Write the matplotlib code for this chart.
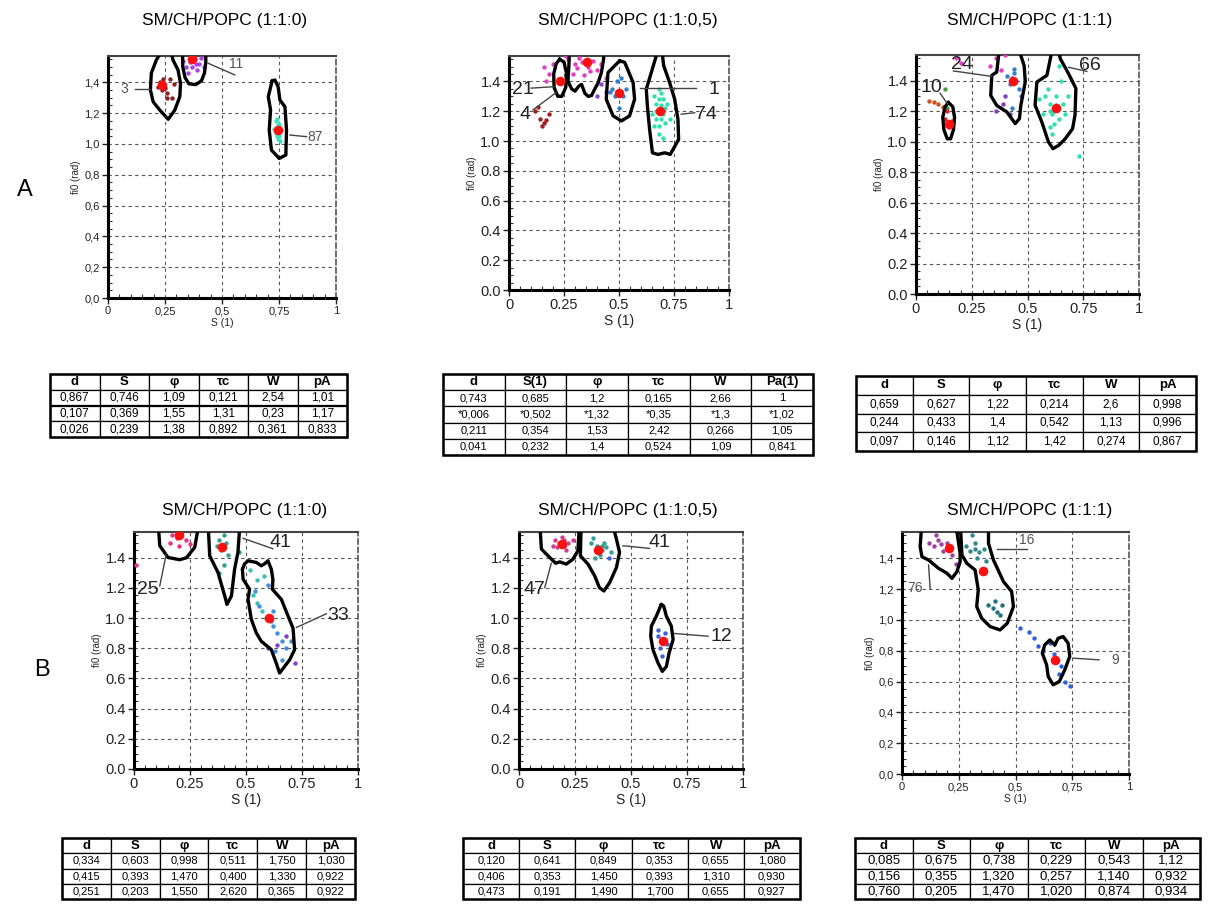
import matplotlib
matplotlib.use("Agg")
import matplotlib.pyplot as plt
import numpy as np
from matplotlib.patches import Rectangle

W, H = 1211, 914
plt.rcParams['font.family'] = ['Liberation Sans', 'DejaVu Sans']

# ---- data -------------------------------------------------------------
titles = ["SM/CH/POPC (1:1:0)", "SM/CH/POPC (1:1:0,5)", "SM/CH/POPC (1:1:1)",
          "SM/CH/POPC (1:1:0)", "SM/CH/POPC (1:1:0,5)", "SM/CH/POPC (1:1:1)"]

hdr_std = ["d", "S", "φ", "τc", "W", "pA"]
hdr_a2 = ["d", "S(1)", "φ", "τc", "W", "Pa(1)"]

tab_a1 = [["0,867", "0,746", "1,09", "0,121", "2,54", "1,01"],
          ["0,107", "0,369", "1,55", "1,31", "0,23", "1,17"],
          ["0,026", "0,239", "1,38", "0,892", "0,361", "0,833"]]
tab_a2 = [["0,743", "0,685", "1,2", "0,165", "2,66", "1"],
          ["*0,006", "*0,502", "*1,32", "*0,35", "*1,3", "*1,02"],
          ["0,211", "0,354", "1,53", "2,42", "0,266", "1,05"],
          ["0,041", "0,232", "1,4", "0,524", "1,09", "0,841"]]
tab_a3 = [["0,659", "0,627", "1,22", "0,214", "2,6", "0,998"],
          ["0,244", "0,433", "1,4", "0,542", "1,13", "0,996"],
          ["0,097", "0,146", "1,12", "1,42", "0,274", "0,867"]]
tab_b1 = [["0,334", "0,603", "0,998", "0,511", "1,750", "1,030"],
          ["0,415", "0,393", "1,470", "0,400", "1,330", "0,922"],
          ["0,251", "0,203", "1,550", "2,620", "0,365", "0,922"]]
tab_b2 = [["0,120", "0,641", "0,849", "0,353", "0,655", "1,080"],
          ["0,406", "0,353", "1,450", "0,393", "1,310", "0,930"],
          ["0,473", "0,191", "1,490", "1,700", "0,655", "0,927"]]
tab_b3 = [["0,085", "0,675", "0,738", "0,229", "0,543", "1,12"],
          ["0,156", "0,355", "1,320", "0,257", "1,140", "0,932"],
          ["0,760", "0,205", "1,470", "1,020", "0,874", "0,934"]]

# cluster outlines (S, fi0)
cont_a1 = [
    [(0.256, 1.65), (0.212, 1.545), (0.19, 1.459), (0.186, 1.35), (0.198, 1.274), (0.227, 1.22),
     (0.264, 1.16), (0.293, 1.22), (0.315, 1.307), (0.318, 1.394), (0.307, 1.48), (0.285, 1.545), (0.27, 1.65)],
    [(0.326, 1.65), (0.328, 1.50), (0.338, 1.43), (0.355, 1.39), (0.385, 1.385), (0.41, 1.41),
     (0.423, 1.46), (0.429, 1.53), (0.428, 1.65)],
    [(0.72, 1.41), (0.703, 1.307), (0.713, 1.22), (0.707, 1.09), (0.717, 0.96), (0.751, 0.906),
     (0.78, 0.928), (0.783, 1.09), (0.776, 1.242), (0.754, 1.285), (0.746, 1.372), (0.732, 1.415), (0.72, 1.41)],
]
cont_a2 = [
    [(0.23, 1.55), (0.215, 1.52), (0.203, 1.45), (0.205, 1.36), (0.222, 1.30), (0.24, 1.30),
     (0.258, 1.36), (0.262, 1.45), (0.25, 1.53), (0.23, 1.55)],
    [(0.276, 1.65), (0.272, 1.50), (0.268, 1.40), (0.285, 1.35), (0.30, 1.335), (0.318, 1.37), (0.33, 1.38),
     (0.345, 1.32), (0.36, 1.30), (0.375, 1.305), (0.39, 1.35), (0.405, 1.39), (0.42, 1.46), (0.43, 1.55), (0.43, 1.65)],
    [(0.503, 1.539), (0.45, 1.46), (0.442, 1.281), (0.473, 1.169), (0.511, 1.135), (0.548, 1.169),
     (0.571, 1.281), (0.564, 1.393), (0.526, 1.528), (0.503, 1.539)],
    [(0.685, 1.65), (0.647, 1.461), (0.624, 1.348), (0.629, 1.236), (0.639, 1.079), (0.652, 0.921), (0.677, 0.91),
     (0.708, 0.921), (0.733, 0.91), (0.771, 1.011), (0.768, 1.146), (0.753, 1.281), (0.73, 1.393),
     (0.703, 1.506), (0.692, 1.65)],
]
cont_a3 = [
    [(0.145, 1.26), (0.13, 1.23), (0.12, 1.16), (0.125, 1.08), (0.14, 1.02), (0.155, 1.02),
     (0.168, 1.08), (0.173, 1.16), (0.165, 1.23), (0.145, 1.26)],
    [(0.377, 1.65), (0.362, 1.459), (0.34, 1.437), (0.335, 1.305), (0.362, 1.239), (0.407, 1.197),
     (0.445, 1.12), (0.464, 1.153), (0.47, 1.239), (0.49, 1.394), (0.485, 1.5), (0.452, 1.65)],
    [(0.617, 1.65), (0.587, 1.437), (0.542, 1.393), (0.534, 1.241), (0.564, 1.131), (0.594, 0.999),
     (0.614, 0.955), (0.64, 0.977), (0.669, 1.02), (0.702, 1.086), (0.713, 1.175), (0.717, 1.351),
     (0.684, 1.448), (0.647, 1.547), (0.632, 1.65)],
]
cont_b1 = [
    [(0.107, 1.65), (0.115, 1.48), (0.152, 1.402), (0.204, 1.387), (0.234, 1.40), (0.271, 1.469), (0.293, 1.65)],
    [(0.33, 1.65), (0.338, 1.413), (0.375, 1.302), (0.405, 1.147), (0.415, 1.091), (0.435, 1.147),
     (0.449, 1.324), (0.464, 1.436), (0.474, 1.65)],
    [(0.484, 1.324), (0.494, 1.36), (0.509, 1.38), (0.546, 1.369), (0.568, 1.347), (0.583, 1.36), (0.598, 1.38),
     (0.613, 1.324), (0.62, 1.258), (0.618, 1.191), (0.658, 1.124), (0.688, 1.013), (0.71, 0.933),
     (0.717, 0.791), (0.695, 0.724), (0.65, 0.636), (0.635, 0.702), (0.613, 0.791), (0.568, 0.847),
     (0.546, 0.902), (0.524, 0.991), (0.509, 1.124), (0.516, 1.191), (0.487, 1.258), (0.484, 1.324)],
]
cont_b2 = [
    [(0.092, 1.65), (0.10, 1.458), (0.137, 1.402), (0.164, 1.364), (0.182, 1.373), (0.211, 1.358),
     (0.241, 1.391), (0.263, 1.447), (0.271, 1.65)],
    [(0.278, 1.65), (0.274, 1.413), (0.308, 1.358), (0.338, 1.28), (0.359, 1.202), (0.379, 1.18),
     (0.405, 1.236), (0.435, 1.336), (0.449, 1.436), (0.435, 1.524), (0.412, 1.65)],
    [(0.635, 1.091), (0.613, 1.013), (0.591, 0.947), (0.588, 0.88), (0.598, 0.791), (0.621, 0.702),
     (0.64, 0.647), (0.658, 0.68), (0.67, 0.769), (0.688, 0.858), (0.68, 0.947), (0.658, 1.013),
     (0.646, 1.08), (0.635, 1.091)],
]
cont_b3 = [
    [(0.088, 1.65), (0.08, 1.475), (0.088, 1.41), (0.117, 1.389), (0.161, 1.335), (0.198, 1.303),
     (0.22, 1.27), (0.242, 1.313), (0.256, 1.378), (0.256, 1.432), (0.234, 1.65)],
    [(0.256, 1.65), (0.264, 1.421), (0.286, 1.367), (0.322, 1.324), (0.336, 1.195), (0.329, 1.087),
     (0.351, 1.011), (0.388, 0.957), (0.432, 0.935), (0.464, 0.979), (0.491, 1.087), (0.483, 1.184),
     (0.447, 1.249), (0.403, 1.389), (0.381, 1.497), (0.381, 1.65)],
    [(0.673, 0.838), (0.651, 0.87), (0.629, 0.838), (0.618, 0.784), (0.637, 0.709), (0.644, 0.633),
     (0.666, 0.579), (0.693, 0.60), (0.717, 0.676), (0.739, 0.763), (0.732, 0.849), (0.71, 0.892),
     (0.688, 0.881), (0.673, 0.838)],
]

# single-molecule points (colour, [(S, fi0), ...])
dots_a1 = [
    ("#8b2020", [(0.23, 1.40), (0.25, 1.36), (0.27, 1.42), (0.26, 1.33), (0.28, 1.30), (0.24, 1.42),
                 (0.29, 1.39), (0.26, 1.30), (0.22, 1.37), (0.245, 1.38), (0.235, 1.35)]),
    ("#b040e0", [(0.34, 1.50), (0.36, 1.53), (0.38, 1.55), (0.40, 1.52), (0.39, 1.48), (0.35, 1.46),
                 (0.41, 1.56), (0.37, 1.50), (0.33, 1.54), (0.42, 1.50), (0.375, 1.54), (0.385, 1.52)]),
    ("#40e0c0", [(0.735, 1.15), (0.745, 1.12), (0.75, 1.08), (0.74, 1.05), (0.755, 1.02), (0.73, 1.10),
                 (0.76, 1.09), (0.745, 1.03), (0.74, 1.16), (0.75, 1.13), (0.738, 1.07), (0.752, 1.05)]),
]
dots_a2 = [
    ("#e040c0", [(0.16, 1.50), (0.18, 1.45), (0.20, 1.52), (0.27, 1.55), (0.30, 1.52), (0.32, 1.56),
                 (0.36, 1.50), (0.38, 1.54), (0.40, 1.48), (0.42, 1.52), (0.29, 1.45), (0.34, 1.44),
                 (0.44, 1.42), (0.17, 1.40), (0.26, 1.57), (0.33, 1.53), (0.37, 1.47), (0.31, 1.49)]),
    ("#9040d0", [(0.42, 1.38), (0.44, 1.33), (0.40, 1.30)]),
    ("#a02020", [(0.12, 1.20), (0.14, 1.15), (0.16, 1.12), (0.17, 1.14), (0.15, 1.10), (0.13, 1.23), (0.18, 1.18)]),
    ("#3080d0", [(0.47, 1.35), (0.49, 1.40), (0.51, 1.42), (0.48, 1.30), (0.52, 1.30), (0.50, 1.22),
                 (0.46, 1.33), (0.53, 1.35)]),
    ("#30e0b0", [(0.66, 1.30), (0.68, 1.35), (0.70, 1.28), (0.67, 1.20), (0.69, 1.15), (0.71, 1.22),
                 (0.66, 1.10), (0.68, 1.05), (0.70, 1.02), (0.72, 1.25), (0.65, 1.18), (0.69, 1.32),
                 (0.67, 1.25), (0.71, 1.12), (0.73, 1.15), (0.68, 1.10), (0.69, 1.24), (0.70, 1.18),
                 (0.67, 1.15), (0.68, 1.28)]),
]
dots_a3 = [
    ("#d05020", [(0.06, 1.27), (0.08, 1.26), (0.10, 1.25), (0.12, 1.23)]),
    ("#40a040", [(0.13, 1.35), (0.14, 1.22)]),
    ("#e02030", [(0.13, 1.15), (0.15, 1.10), (0.16, 1.14), (0.14, 1.20)]),
    ("#e040c0", [(0.18, 1.55), (0.20, 1.52), (0.33, 1.50), (0.36, 1.55), (0.38, 1.47), (0.40, 1.57)]),
    ("#3080d0", [(0.41, 1.43), (0.43, 1.42), (0.44, 1.45), (0.45, 1.40), (0.42, 1.38), (0.46, 1.35),
                 (0.44, 1.48), (0.47, 1.30), (0.43, 1.22)]),
    ("#8040c0", [(0.39, 1.25), (0.40, 1.30), (0.36, 1.20), (0.42, 1.18)]),
    ("#30e0b0", [(0.58, 1.30), (0.60, 1.25), (0.62, 1.20), (0.64, 1.15), (0.60, 1.10), (0.63, 1.30),
                 (0.65, 1.40), (0.66, 1.25), (0.57, 1.18), (0.61, 1.05), (0.68, 1.30), (0.64, 1.50),
                 (0.59, 1.35), (0.62, 1.12), (0.67, 1.18), (0.55, 1.28), (0.73, 0.91), (0.61, 1.18),
                 (0.63, 1.24), (0.60, 1.20)]),
]
dots_b1 = [
    ("#f03080", [(0.17, 1.55), (0.19, 1.53), (0.21, 1.56), (0.23, 1.52), (0.20, 1.48), (0.16, 1.50),
                 (0.25, 1.49), (0.01, 1.35)]),
    ("#30a090", [(0.38, 1.52), (0.40, 1.55), (0.39, 1.45), (0.41, 1.50), (0.37, 1.48), (0.42, 1.42),
                 (0.40, 1.35), (0.38, 1.30), (0.47, 1.44)]),
    ("#40c0b0", [(0.55, 1.10), (0.57, 1.05), (0.53, 1.15), (0.52, 1.32), (0.55, 1.25), (0.58, 1.28)]),
    ("#4090e0", [(0.54, 1.18), (0.56, 1.08), (0.59, 1.00), (0.61, 0.98), (0.62, 0.95), (0.64, 0.90),
                 (0.66, 0.85), (0.68, 0.80), (0.63, 0.78), (0.66, 0.72), (0.70, 0.85), (0.62, 1.05), (0.60, 1.22)]),
    ("#8040d0", [(0.68, 0.88), (0.64, 0.82), (0.72, 0.70), (0.60, 0.80)]),
]
dots_b2 = [
    ("#d04090", [(0.16, 1.52), (0.18, 1.50), (0.20, 1.48), (0.22, 1.50), (0.19, 1.54), (0.15, 1.48),
                 (0.21, 1.45), (0.24, 1.52), (0.17, 1.47), (0.20, 1.52)]),
    ("#30a090", [(0.32, 1.50), (0.35, 1.48), (0.37, 1.45), (0.38, 1.50), (0.36, 1.42), (0.39, 1.47),
                 (0.33, 1.53), (0.41, 1.44), (0.34, 1.40), (0.37, 1.48), (0.36, 1.46)]),
    ("#4060e0", [(0.62, 0.88), (0.64, 0.85), (0.65, 0.90), (0.63, 0.80), (0.64, 0.75), (0.66, 0.83),
                 (0.62, 0.92), (0.40, 1.40)]),
]
dots_b3 = [
    ("#a040a0", [(0.12, 1.50), (0.14, 1.48), (0.16, 1.52), (0.18, 1.45), (0.20, 1.50), (0.22, 1.42),
                 (0.15, 1.55), (0.24, 1.36), (0.17, 1.49)]),
    ("#308890", [(0.28, 1.48), (0.30, 1.45), (0.32, 1.50), (0.34, 1.44), (0.33, 1.40), (0.36, 1.46),
                 (0.31, 1.55), (0.37, 1.38), (0.32, 1.46)]),
    ("#207080", [(0.38, 1.10), (0.40, 1.08), (0.42, 1.05), (0.44, 1.10), (0.41, 1.12), (0.43, 1.03)]),
    ("#3060e0", [(0.52, 0.95), (0.56, 0.92), (0.58, 0.88), (0.60, 0.83), (0.65, 0.85), (0.67, 0.78),
                 (0.70, 0.70), (0.69, 0.65), (0.72, 0.60), (0.74, 0.57), (0.62, 0.80)]),
]

# cluster population labels
labels_a1 = ["3", "11", "87"]
labels_a2 = ["21", "4", "1", "74"]
labels_a3 = ["10", "24", "66"]
labels_b1 = ["25", "41", "33"]
labels_b2 = ["47", "41", "12"]
labels_b3 = ["76", "16", "9"]

# ---- layout -------------------------------------------------------------
# axes rectangles in pixels: left, top, right, bottom
ax_px = [(108, 56, 336, 298), (509, 56, 729, 290), (916, 55, 1139, 294),
         (134, 532, 358, 769), (519, 532, 743, 769), (902, 532, 1129, 774)]
title_px = [(225, 20), (628, 20), (1030, 20), (245, 511), (628, 511), (1030, 511)]
tab_px = [(50, 374, 347, 437), (443, 374, 813, 455), (856, 376, 1196, 451),
          (62, 838, 355, 899), (463, 838, 800, 899), (855, 838, 1200, 899)]
tab_fs = [8.5, 8, 8.5, 8, 8, 9.5]
comma_style = [True, False, False, False, False, True]

# label text position, leader line start, leader line end
ann_a1 = [((0.073, 1.355), (0.117, 1.355), (0.186, 1.355)),
          ((0.56, 1.52), (0.439, 1.524), (0.556, 1.448)),
          ((0.91, 1.047), (0.798, 1.058), (0.871, 1.047))]
ann_a2 = [((0.064, 1.348), (0.10, 1.355), (0.205, 1.365)),
          ((0.071, 1.18), (0.109, 1.209), (0.215, 1.326)),
          ((0.93, 1.348), (0.594, 1.353), (0.852, 1.353)),
          ((0.897, 1.18), (0.783, 1.18), (0.844, 1.19))]
ann_a3 = [((0.07, 1.355), (0.108, 1.32), (0.141, 1.25)),
          ((0.205, 1.506), (0.168, 1.466), (0.34, 1.43)),
          ((0.778, 1.5), (0.684, 1.49), (0.766, 1.463))]
ann_b1 = [((0.063, 1.191), (0.115, 1.213), (0.144, 1.424)),
          ((0.655, 1.502), (0.487, 1.529), (0.62, 1.46)),
          ((0.91, 1.018), (0.725, 0.938), (0.859, 1.029))]
ann_b2 = [((0.07, 1.191), (0.115, 1.202), (0.144, 1.364)),
          ((0.628, 1.502), (0.464, 1.48), (0.583, 1.462)),
          ((0.903, 0.88), (0.695, 0.898), (0.844, 0.88))]
ann_b3 = [((0.059, 1.205), (0.124, 1.205), (0.117, 1.357)),
          ((0.549, 1.519), (0.417, 1.459), (0.549, 1.459)),
          ((0.937, 0.741), (0.754, 0.752), (0.868, 0.741))]

conts = [cont_a1, cont_a2, cont_a3, cont_b1, cont_b2, cont_b3]
dots = [dots_a1, dots_a2, dots_a3, dots_b1, dots_b2, dots_b3]
tabs = [tab_a1, tab_a2, tab_a3, tab_b1, tab_b2, tab_b3]
hdrs = [hdr_std, hdr_a2, hdr_std, hdr_std, hdr_std, hdr_std]
labels = [labels_a1, labels_a2, labels_a3, labels_b1, labels_b2, labels_b3]
anns = [ann_a1, ann_a2, ann_a3, ann_b1, ann_b2, ann_b3]


def num(s):
    return float(s.strip('*').replace(',', '.'))


def rect(l, t, r, b):
    return [l / W, 1 - b / H, (r - l) / W, (b - t) / H]


fig = plt.figure(figsize=(W / 100, H / 100), dpi=100)
ymax = np.pi / 2
yt = np.arange(0, 1.41, 0.2)

for i in range(6):
    ax = fig.add_axes(rect(*ax_px[i]))
    small = comma_style[i]
    ax.set_xlim(0, 1)
    ax.set_ylim(0, ymax)
    ax.set_xticks([0, 0.25, 0.5, 0.75, 1])
    ax.set_yticks(yt)
    if small:
        ax.set_xticklabels(["0", "0,25", "0,5", "0,75", "1"])
        ax.set_yticklabels([("%.1f" % v).replace('.', ',') for v in yt])
        fs = 8
    else:
        ax.set_xticklabels(["0", "0.25", "0.5", "0.75", "1"])
        ax.set_yticklabels(["%.1f" % v for v in yt])
        fs = 10.5
    ax.set_xticks(np.arange(0, 1.001, 0.05), minor=True)
    ax.set_yticks(np.arange(0, ymax, 0.05), minor=True)
    ax.tick_params(which='major', labelsize=fs, length=4, width=1, colors='#222', pad=2)
    ax.tick_params(which='minor', direction='in', length=3, width=0.8, colors='#333')
    ax.grid(True, which='major', color='#555', linestyle=(0, (3, 3)), linewidth=0.8)
    ax.set_axisbelow(True)
    ax.set_xlabel("S (1)", fontsize=fs - 0.5, labelpad=1, color='#222')
    ax.set_ylabel("fi0 (rad)", fontsize=7, labelpad=2, color='#222')
    for side in ['left', 'bottom']:
        ax.spines[side].set_linewidth(2.2)
        ax.spines[side].set_color('black')
    ax.spines['top'].set_linewidth(1.5)
    ax.spines['top'].set_color('#444')
    ax.spines['right'].set_linewidth(1.2)
    ax.spines['right'].set_color('#555')
    ax.spines['right'].set_linestyle((0, (3, 2)))

    for col, pts in dots[i]:
        p = np.array(pts)
        ax.scatter(p[:, 0], p[:, 1], s=10, color=col, linewidths=0, zorder=3)

    for c in conts[i]:
        c = np.array(c)
        ax.plot(c[:, 0], c[:, 1], color='black', lw=2.4, solid_joinstyle='round',
                solid_capstyle='round', zorder=4)

    # cluster centres from the table (S, phi)
    cs = [num(r[1]) for r in tabs[i]]
    cf = [num(r[2]) for r in tabs[i]]
    ax.scatter(cs, cf, s=48, color='#ff1010', linewidths=0, zorder=5)

    lab_fs = 10 if small else 14
    lab_col = '#555' if small else '#222'
    for txt, (tp, p0, p1) in zip(labels[i], anns[i]):
        ax.plot([p0[0], p1[0]], [p0[1], p1[1]], color='#444', lw=1, zorder=4)
        ax.text(tp[0], tp[1], txt, fontsize=lab_fs, color=lab_col, ha='center', va='center', zorder=6)

    fig.text(title_px[i][0] / W, 1 - title_px[i][1] / H, titles[i], fontsize=12.5,
             ha='center', va='center')

    # parameter table
    tax = fig.add_axes(rect(*tab_px[i]))
    tax.axis('off')
    tb = tax.table(cellText=tabs[i], colLabels=hdrs[i], cellLoc='center', bbox=[0, 0, 1, 1])
    tb.auto_set_font_size(False)
    for (r, c), cell in tb.get_celld().items():
        cell.set_linewidth(0.9)
        cell.set_edgecolor('black')
        if r == 0:
            cell.get_text().set_fontweight('bold')
            cell.get_text().set_fontsize(9.5)
        else:
            cell.get_text().set_fontsize(tab_fs[i])
    tax.add_patch(Rectangle((0, 0), 1, 1, fill=False, lw=1.8, edgecolor='black',
                            transform=tax.transAxes, clip_on=False))

fig.text(25 / W, 1 - 190 / H, "A", fontsize=17, ha='center', va='center')
fig.text(42 / W, 1 - 670 / H, "B", fontsize=17, ha='center', va='center')

fig.savefig("out.png", dpi=100)
